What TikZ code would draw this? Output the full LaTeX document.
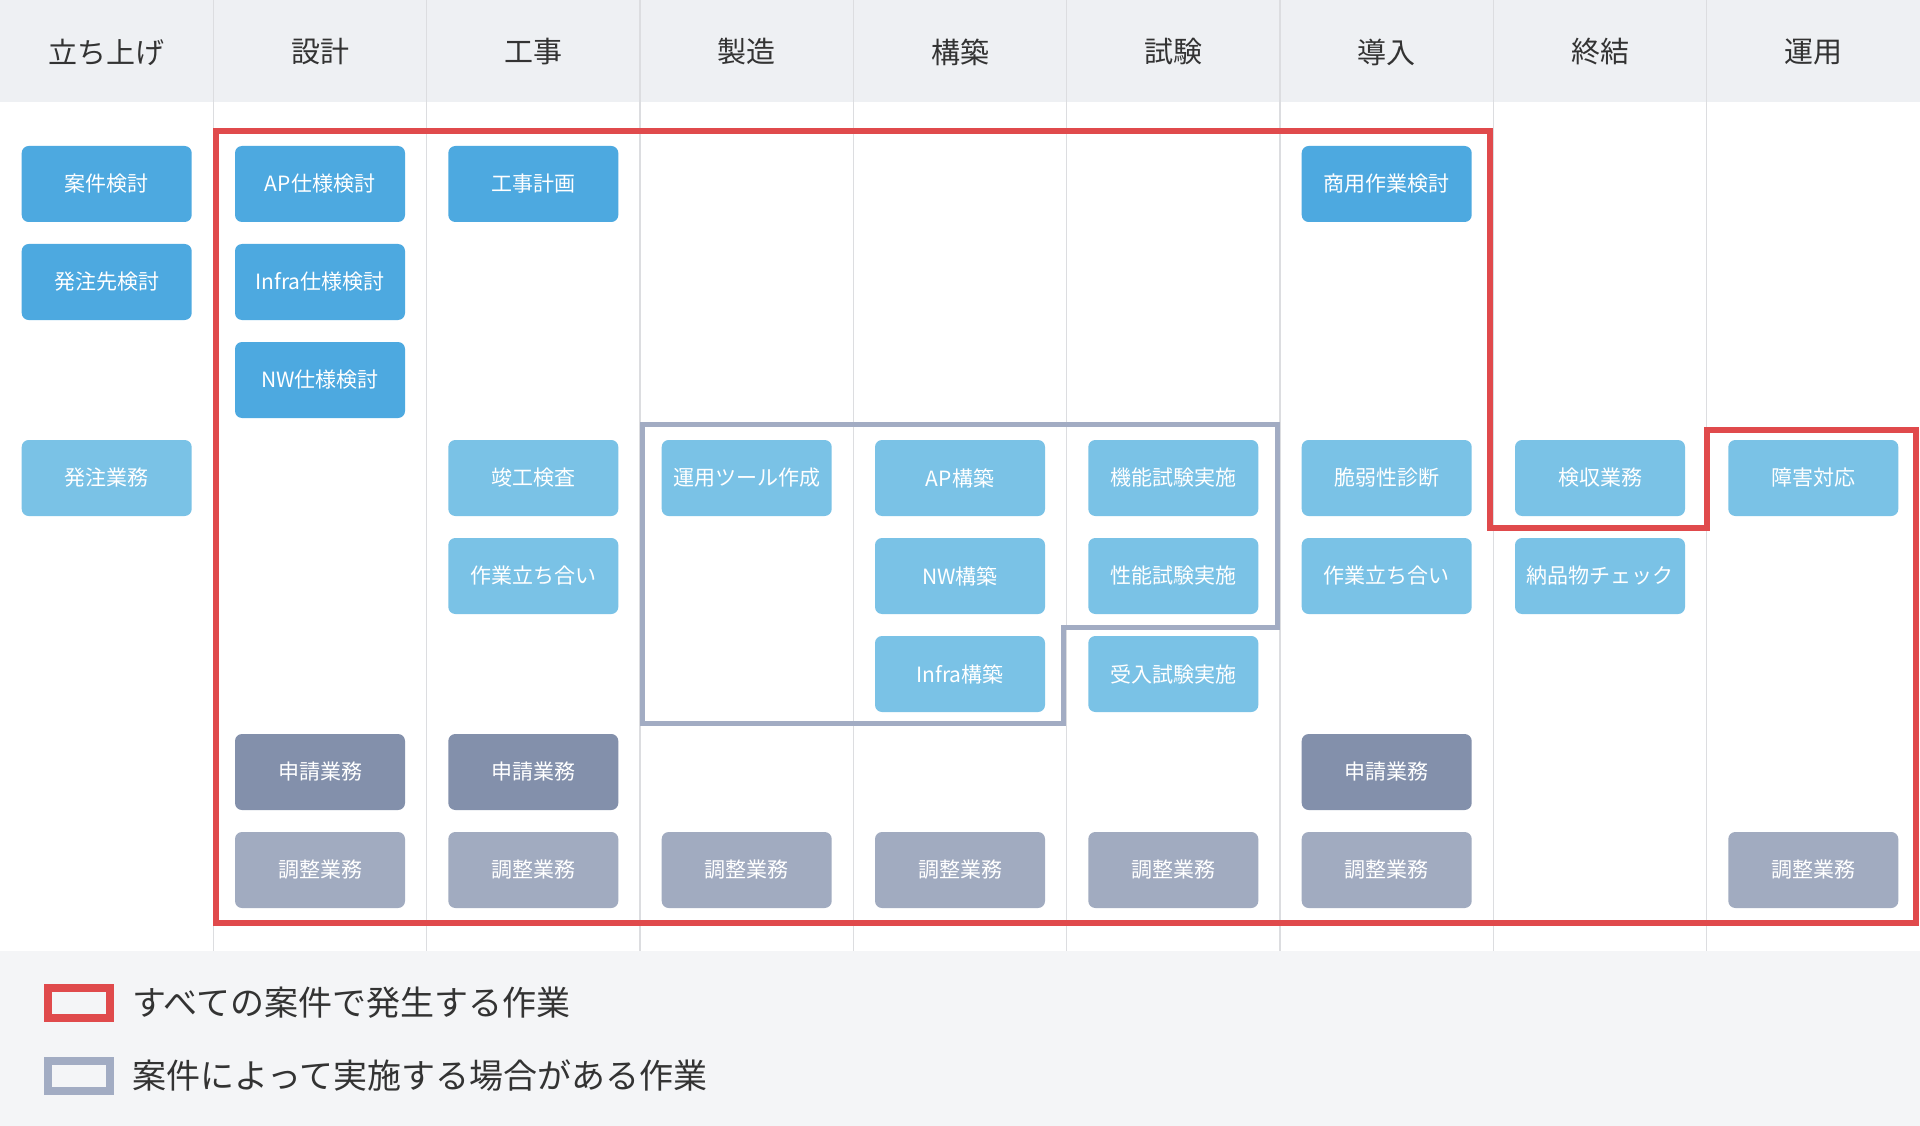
\documentclass[tikz,border=0pt]{standalone}
\usepackage{fontspec}
\setmainfont{Noto Sans CJK JP}
\definecolor{headbg}{HTML}{EEF0F3}
\definecolor{footbg}{HTML}{F4F5F7}
\definecolor{divline}{HTML}{DCDDE0}
\definecolor{darkblue}{HTML}{4DA9E0}
\definecolor{lightblue}{HTML}{7AC2E6}
\definecolor{shinseigray}{HTML}{8390AB}
\definecolor{choseigray}{HTML}{A1ABC0}
\definecolor{allred}{HTML}{E04A4C}
\definecolor{somegray}{HTML}{A2ACC3}
\definecolor{txtdark}{HTML}{333333}
\tikzset{
  card/.style={rounded corners=7pt, minimum width=170pt, minimum height=76pt,
    inner sep=0pt, text=white, font=\fontsize{21}{21}\selectfont},
  darkcard/.style={card, fill=darkblue},
  lightcard/.style={card, fill=lightblue},
  shinsei/.style={card, fill=shinseigray},
  chosei/.style={card, fill=choseigray},
  phase/.style={text=txtdark, font=\fontsize{29}{29}\selectfont},
  keybox/.style={line width=8pt, minimum width=62pt, minimum height=30pt, inner sep=0pt},
  keytext/.style={anchor=west, text=txtdark, font=\fontsize{34}{34}\selectfont, inner sep=0pt}
}
\begin{document}
\begin{tikzpicture}[x=1pt,y=-1pt]
    \useasboundingbox (0,0) rectangle (1920,1126);
    % bands
    \fill[headbg] (0,0) rectangle (1920,102);
    \fill[white] (0,102) rectangle (1920,951);
    \fill[footbg] (0,951) rectangle (1920,1126);
    % column lines
    \foreach \i in {1,...,8}
    \draw[divline, line width=1.5pt] (\i*213.333,0) -- (\i*213.333,951);

    % phase titles
    \foreach \t [count=\i from 0] in {立ち上げ,設計,工事,製造,構築,試験,導入,終結,運用}
    \node[phase] (h\i) at (106.667+\i*213.333,52) {\t};

    % outlines
    \draw[allred, line width=6pt] (215.5,131) -- (1490,131) -- (1490,528) -- (1707,528)
        -- (1707,430) -- (1916,430) -- (1916,923) -- (215.5,923) -- cycle;
    \draw[somegray, line width=5pt] (642,424) -- (1277,424) -- (1277,627) -- (1063,627)
        -- (1063,723.5) -- (642,723.5) -- cycle;

    % 立ち上げ
    \node[darkcard] (anken) at (106.7,184) {案件検討};
    \node[darkcard] (hacchusaki) at (106.7,282) {発注先検討};
    \node[lightcard] (hacchu) at (106.7,478) {発注業務};
    % 設計
    \node[darkcard] (apspec) at (320,184) {AP仕様検討};
    \node[darkcard] (infraspec) at (320,282) {Infra仕様検討};
    \node[darkcard] (nwspec) at (320,380) {NW仕様検討};
    \node[shinsei] (shinsei1) at (320,772) {申請業務};
    \node[chosei] (chosei1) at (320,870) {調整業務};
    % 工事
    \node[darkcard] (kojikeikaku) at (533.3,184) {工事計画};
    \node[lightcard] (shunko) at (533.3,478) {竣工検査};
    \node[lightcard] (tachiai2) at (533.3,576) {作業立ち合い};
    \node[shinsei] (shinsei2) at (533.3,772) {申請業務};
    \node[chosei] (chosei2) at (533.3,870) {調整業務};
    % 製造
    \node[lightcard] (tool) at (746.7,478) {運用ツール作成};
    \node[chosei] (chosei3) at (746.7,870) {調整業務};
    % 構築
    \node[lightcard] (apbuild) at (960,478) {AP構築};
    \node[lightcard] (nwbuild) at (960,576) {NW構築};
    \node[lightcard] (infrabuild) at (960,674) {Infra構築};
    \node[chosei] (chosei4) at (960,870) {調整業務};
    % 試験
    \node[lightcard] (kinoshiken) at (1173.3,478) {機能試験実施};
    \node[lightcard] (seinoshiken) at (1173.3,576) {性能試験実施};
    \node[lightcard] (ukeire) at (1173.3,674) {受入試験実施};
    \node[chosei] (chosei5) at (1173.3,870) {調整業務};
    % 導入
    \node[darkcard] (shoyo) at (1386.7,184) {商用作業検討};
    \node[lightcard] (zeijaku) at (1386.7,478) {脆弱性診断};
    \node[lightcard] (tachiai6) at (1386.7,576) {作業立ち合い};
    \node[shinsei] (shinsei6) at (1386.7,772) {申請業務};
    \node[chosei] (chosei6) at (1386.7,870) {調整業務};
    % 終結
    \node[lightcard] (kenshu) at (1600,478) {検収業務};
    \node[lightcard] (nohin) at (1600,576) {納品物チェック};
    % 運用
    \node[lightcard] (shogai) at (1813.3,478) {障害対応};
    \node[chosei] (chosei8) at (1813.3,870) {調整業務};

    % legend
    \node[keybox, draw=allred, fill=footbg] (keyall) at (78.5,1003) {};
    \node[keytext] (keyalltxt) at (132,1003) {すべての案件で発生する作業};
    \node[keybox, draw=somegray, fill=footbg] (keysome) at (78.5,1076) {};
    \node[keytext] (keysometxt) at (132,1076) {案件によって実施する場合がある作業};
\end{tikzpicture}
\end{document}
